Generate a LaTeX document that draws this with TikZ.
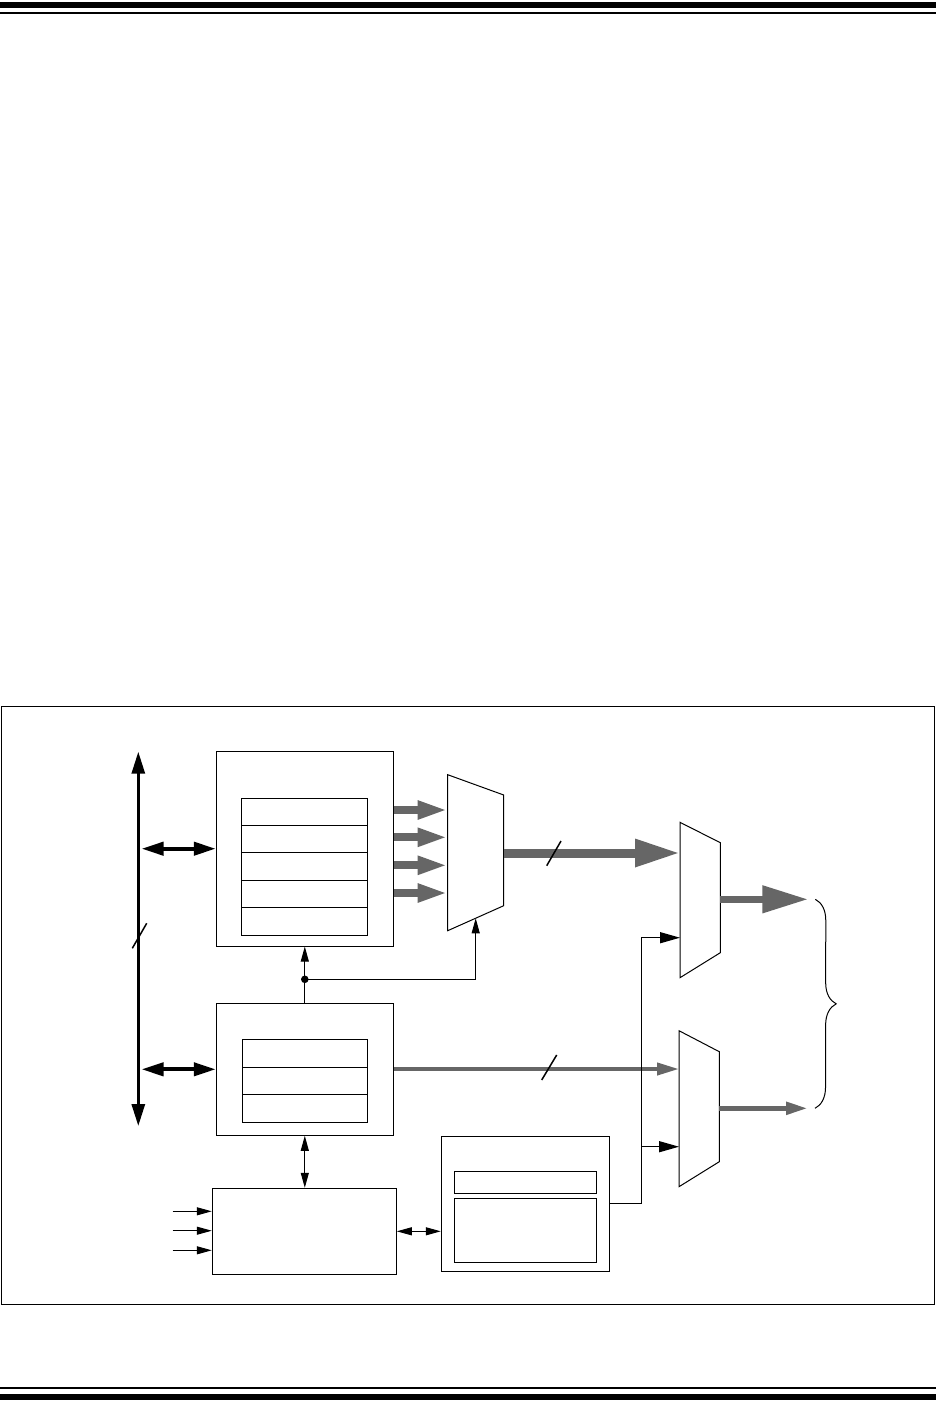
\documentclass[tikz,border=0pt]{standalone}
\usepackage{xcolor}
\usepackage{tikz}
\usetikzlibrary{arrows.meta,decorations.pathreplacing}

\definecolor{busgray}{RGB}{102,102,102}

\begin{document}
\begin{tikzpicture}[x=1pt, y=-1pt,
    box/.style={rectangle, draw, line width=1pt, inner sep=0pt},
    mux/.style={draw, line width=1pt, line join=miter},
    bus/.style={line width=3pt, {Triangle[length=22pt,width=13pt]}-{Triangle[length=22pt,width=13pt]}},
    link/.style={line width=4pt, {Triangle[length=22pt,width=13pt]}-{Triangle[length=22pt,width=13pt]}},
    dbl/.style={line width=1pt, {Triangle[length=15pt,width=8pt]}-{Triangle[length=15pt,width=8pt]}},
    ctrl/.style={line width=1pt, -{Triangle[length=15pt,width=8pt]}},
    sel/.style={line width=1.3pt, -{Triangle[length=20pt,width=11pt]}},
    wide/.style={busgray, line width=8pt, -{Triangle[length=30pt,width=17pt]}},
    wider/.style={busgray, line width=9pt, -{Triangle[length=45pt,width=26pt]}},
    narrow/.style={busgray, line width=4pt, -{Triangle[length=22pt,width=12pt]}},
    slash/.style={line width=1.5pt}
]
    \useasboundingbox (0,0) rectangle (936,1416);

    % Page rules and frame
    \fill (0,2) rectangle (936,8);
    \fill (0,12) rectangle (936,14);
    \fill (0,1387) rectangle (936,1389);
    \fill (0,1394) rectangle (936,1400);
    \draw[line width=1pt] (1,706) rectangle (934.5,1304);

    % Data bus
    \coordinate (busTop) at (138.3,751.7);
    \coordinate (busBot) at (138.3,1126);
    \draw[bus] (busTop) -- (busBot);
    \draw[slash] (132.3,948.3) -- (146.7,923.3);

    % Register block
    \node[box, minimum width=177pt, minimum height=194.7pt] (regfile) at (304.8,848.7) {};
    \foreach \i in {1,...,5}
        \node[box, minimum width=126pt, minimum height=27.35pt] (reg\i) at (304.3,784.6+27.35*\i) {};

    % Shadow block
    \node[box, minimum width=177pt, minimum height=132pt] (shadow) at (304.8,1069.3) {};
    \foreach \i in {1,2,3}
        \node[box, minimum width=125pt, minimum height=27.67pt] (sreg\i) at (304.8,1025.5+27.67*\i) {};

    % Control logic
    \node[box, minimum width=184pt, minimum height=86pt] (control) at (304.3,1231.3) {};

    % Time base
    \node[box, minimum width=168pt, minimum height=135.3pt] (timebase) at (525.3,1203.7) {};
    \node[box, minimum width=142.4pt, minimum height=22pt] (period) at (525.5,1182.3) {};
    \node[box, minimum width=142.4pt, minimum height=64pt] (counter) at (525.5,1230.3) {};

    % Multiplexers
    \draw[mux] (447.7,774.7) -- (503.7,795) -- (503.7,905.7) -- (447.7,930.7) -- cycle;
    \draw[mux] (680,822.3) -- (720.3,842.7) -- (720.3,952.7) -- (680,977.7) -- cycle;
    \draw[mux] (679,1030.7) -- (719.3,1051.7) -- (719.3,1161.7) -- (679,1186.7) -- cycle;
    \coordinate (m1out) at (503.7,853);
    \coordinate (m1sel) at (475.7,918.3);
    \coordinate (m2a) at (680,853);
    \coordinate (m2b) at (680,937.7);
    \coordinate (m2out) at (720.3,899.3);
    \coordinate (m3a) at (679,1069);
    \coordinate (m3b) at (679,1146.7);
    \coordinate (m3out) at (719.3,1108.3);
    \coordinate (outA) at (808.3,899.3);
    \coordinate (outB) at (808,1108.3);
    \coordinate (tap) at (304.8,979.3);
    \coordinate (route) at (641.3,1203.7);

    % Bus links
    \draw[link] ([xshift=3.2pt]busTop |- regfile.west) -- (regfile.west);
    \draw[link] ([xshift=3.2pt]busTop |- shadow.west) -- (shadow.west);

    % Register outputs
    \foreach \y [count=\i] in {810,837.3,865.3,893} {
        \coordinate (m1in\i) at (447.7,\y);
        \draw[wide] (regfile.east |- m1in\i) -- (m1in\i);
    }
    \draw[wider] (m1out) -- (m2a);
    \draw[slash] (546.7,865.7) -- (561,841);
    \draw[busgray, line width=7.5pt, -{Triangle[length=46pt,width=26pt]}] (m2out) -- (outA);

    \draw[narrow] (shadow.east |- m3a) -- (m3a);
    \draw[slash] (541.7,1080) -- (556.7,1055);
    \draw[busgray, line width=5pt, -{Triangle[length=22pt,width=12pt]}] (m3out) -- (outB);

    % Select lines
    \draw[ctrl] (shadow.north) -- (regfile.south);
    \fill (tap) circle (3.8pt);
    \draw[ctrl] (tap) -| (m1sel);
    \draw[line width=1.5pt] (timebase.east) -- (route);
    \draw[sel] (route) |- (m2b);
    \draw[sel] (route |- m3b) -- (m3b);

    % Control connections
    \draw[dbl] (shadow.south) -- (shadow.south |- control.north);
    \draw[dbl] (control.east) -- (control.east -| timebase.west);
    \foreach \y [count=\i] in {1211.3,1230.7,1250.3} {
        \coordinate (in\i) at (172.7,\y);
        \draw[ctrl] (in\i) -- (control.west |- in\i);
    }

    % Output pair
    \draw[line width=1pt, decorate, decoration={brace, amplitude=21pt}]
        ([xshift=7pt]outA) -- ([xshift=7pt]outB);
\end{tikzpicture}
\end{document}
